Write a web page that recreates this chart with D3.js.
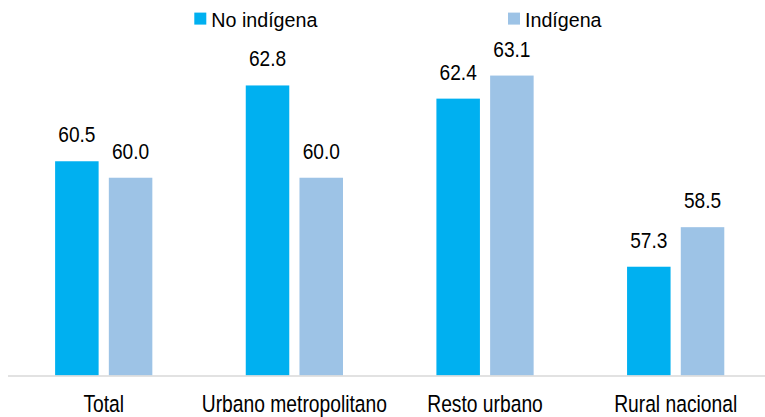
<!DOCTYPE html>
<html>
<head>
<meta charset="utf-8">
<script src="https://cdn.jsdelivr.net/npm/d3@7/dist/d3.min.js"></script>
<style>
  html, body { margin: 0; padding: 0; background: #fff; }
  svg { display: block; font-family: "Liberation Sans", Arial, sans-serif; }
</style>
</head>
<body>
<div id="chart"></div>
<script>
// datos
const categorias = ['Total', 'Urbano metropolitano', 'Resto urbano', 'Rural nacional'];
const series = ['No indígena', 'Indígena'];
const noIndigena = [60.5, 62.8, 62.4, 57.3];
const indigena = [60.0, 60.0, 63.1, 58.5];
const colores = ['#00B0F0', '#9DC3E6'];

const width = 765;
const height = 417;

const svg = d3.select('#chart')
  .append('svg')
  .attr('width', width)
  .attr('height', height);

// escalas
const x0 = d3.scaleBand()
  .domain(categorias)
  .range([8.4, 771])
  .paddingInner(0.49)
  .paddingOuter(0.245);

const x1 = d3.scaleBand()
  .domain(series)
  .range([0, x0.bandwidth()])
  .paddingInner(0.19);

const y = d3.scaleLinear()
  .domain([54, 66])
  .range([375.5, 375.5 - 12 * 32.96]);

// texto condensado (tipo Arial Narrow)
function texto(g, x, yy, str, size, sx, anchor) {
  return g.append('text')
    .attr('transform', `translate(${x},${yy}) scale(${sx},1)`)
    .attr('text-anchor', anchor || 'middle')
    .attr('fill', '#000')
    .style('font-size', size + 'px')
    .text(str);
}

const filas = categorias.map((c, i) => ({
  cat: c,
  valores: [
    { serie: series[0], v: noIndigena[i], color: colores[0] },
    { serie: series[1], v: indigena[i], color: colores[1] }
  ]
}));

// barras
const grupos = svg.selectAll('.grupo')
  .data(filas)
  .enter()
  .append('g')
  .attr('class', 'grupo')
  .attr('transform', d => `translate(${x0(d.cat)},0)`);

grupos.selectAll('rect')
  .data(d => d.valores)
  .enter()
  .append('rect')
  .attr('x', d => x1(d.serie))
  .attr('y', d => y(d.v))
  .attr('width', x1.bandwidth())
  .attr('height', d => y(54) - y(d.v))
  .attr('fill', d => d.color);

// etiquetas de valor
grupos.each(function (d) {
  const g = d3.select(this);
  d.valores.forEach(p => {
    texto(g, x1(p.serie) + x1.bandwidth() / 2, y(p.v) - 19, p.v.toFixed(1), 22.5, 0.85);
  });
});

// eje horizontal
svg.append('line')
  .attr('x1', 8)
  .attr('x2', width)
  .attr('y1', y(54) + 0.5)
  .attr('y2', y(54) + 0.5)
  .attr('stroke', '#d9d9d9')
  .attr('stroke-width', 1.5);

// categorias (un poco por encima del borde inferior)
categorias.forEach(c => {
  texto(svg, x0(c) + x0.bandwidth() / 2, 411.5, c, 23.5, 0.82);
});

// leyenda
const leyendaX = [194.3, 508];
series.forEach((s, i) => {
  svg.append('rect')
    .attr('x', leyendaX[i])
    .attr('y', 12.6)
    .attr('width', 12)
    .attr('height', 12)
    .attr('fill', colores[i]);
  texto(svg, leyendaX[i] + 17, 26.5, s, 20.5, 0.96, 'start');
});
</script>
</body>
</html>
